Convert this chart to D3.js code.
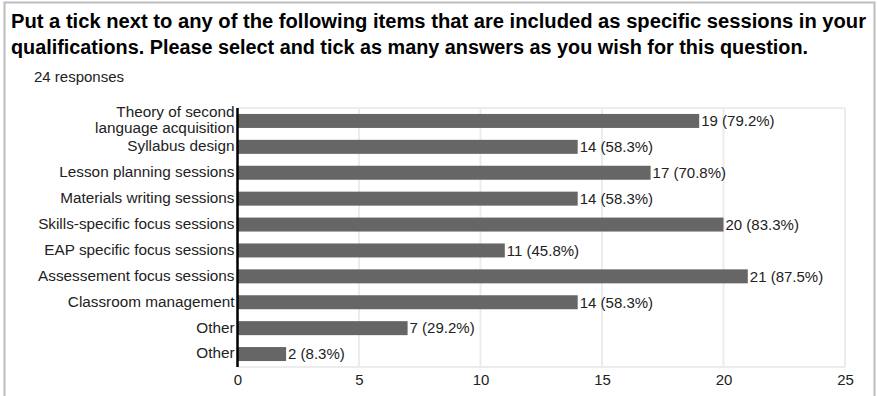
<!DOCTYPE html>
<html><head><meta charset="utf-8">
<script src="https://cdn.jsdelivr.net/npm/d3@7"></script>
<style>body{margin:0;background:#fff}</style>
</head><body><div id="chart"></div>
<script>
const titleLines = ["Put a tick next to any of the following items that are included as specific sessions in your",
                    "qualifications. Please select and tick as many answers as you wish for this question."];
const titleWidths = [855, 797];
const subtitle = "24 responses";
const categories = [["Theory of second","language acquisition"],["Syllabus design"],["Lesson planning sessions"],["Materials writing sessions"],["Skills-specific focus sessions"],["EAP specific focus sessions"],["Assessement focus sessions"],["Classroom management"],["Other"],["Other"]];
const counts = [19,14,17,14,20,11,21,14,7,2];
const percents = ["79.2%","58.3%","70.8%","58.3%","83.3%","45.8%","87.5%","58.3%","29.2%","8.3%"];
const xTicks = [0,5,10,15,20,25];

const W=877,H=396;
const svg=d3.select("#chart").append("svg").attr("width",W).attr("height",H);
// frame
svg.append("path").attr("d",`M4.5,${H} V2.5 H874.5 V${H}`).attr("fill","none").attr("stroke","#bdbdbd").attr("stroke-width",2);

const titleFont="'Liberation Sans',Arial,sans-serif";
const bodyFont="'Liberation Sans',Arial,sans-serif";
svg.selectAll("text.title").data(titleLines).join("text").attr("class","title")
  .attr("x",11).attr("y",(d,i)=>28+i*26).attr("font-family",titleFont).attr("font-weight","bold")
  .attr("font-size",20).attr("fill","#000")
  .attr("textLength",(d,i)=>titleWidths[i]).attr("lengthAdjust","spacingAndGlyphs").text(d=>d);
svg.append("text").attr("x",34).attr("y",82).attr("font-family",bodyFont).attr("font-size",15).attr("fill","#222").text(subtitle);

const pLeft=237.5,pRight=845,pTop=108,pBottom=367;
const x=d3.scaleLinear().domain([0,25]).range([pLeft,pRight]);
const y=d3.scaleBand().domain(d3.range(categories.length)).range([pTop,pBottom]).paddingInner(0.46).paddingOuter(0.23);

// gridlines
svg.append("g").selectAll("line").data(xTicks).join("line")
  .attr("x1",d=>x(d)).attr("x2",d=>x(d)).attr("y1",pTop).attr("y2",pBottom)
  .attr("stroke","#ececec").attr("stroke-width",2);
svg.append("line").attr("x1",pLeft).attr("x2",pRight).attr("y1",pTop).attr("y2",pTop).attr("stroke","#ececec").attr("stroke-width",2);
svg.append("line").attr("x1",pLeft).attr("x2",pRight).attr("y1",pBottom).attr("y2",pBottom).attr("stroke","#ececec").attr("stroke-width",2);

// bars
svg.append("g").selectAll("rect").data(counts).join("rect")
  .attr("x",x(0)).attr("y",(d,i)=>y(i)).attr("width",d=>x(d)-x(0)).attr("height",y.bandwidth())
  .attr("fill","#666666");

// value labels
svg.append("g").selectAll("text").data(counts).join("text")
  .attr("x",d=>x(d)+2).attr("y",(d,i)=>y(i)+y.bandwidth()/2).attr("dy","0.35em")
  .attr("font-family",bodyFont).attr("font-size",15).attr("fill","#222")
  .text((d,i)=>`${d} (${percents[i]})`);

// category labels
const cl=svg.append("g").selectAll("text").data(categories).join("text")
  .attr("x",pLeft-3).attr("text-anchor","end")
  .attr("font-family",bodyFont).attr("font-size",15.3).attr("fill","#222");
cl.each(function(d,i){
  const t=d3.select(this); const cy=y(i)+y.bandwidth()/2; const lh=16;
  d.forEach((line,j)=>{
    t.append("tspan").attr("x",pLeft-3).attr("y",cy-1+(j-(d.length-1)/2)*lh).attr("dy","0.35em").text(line);
  });
});

// axis line
svg.append("line").attr("x1",x(0)).attr("x2",x(0)).attr("y1",pTop).attr("y2",pBottom).attr("stroke","#000").attr("stroke-width",2.5);

// x tick labels
const ax=d3.axisBottom(x).tickValues(xTicks).tickSize(0).tickPadding(0);
const g=svg.append("g").attr("transform",`translate(0,${pBottom+7})`).call(ax);
g.select(".domain").remove();
g.selectAll("text").attr("font-family",bodyFont).attr("font-size",15).attr("fill","#222");
</script></body></html>
